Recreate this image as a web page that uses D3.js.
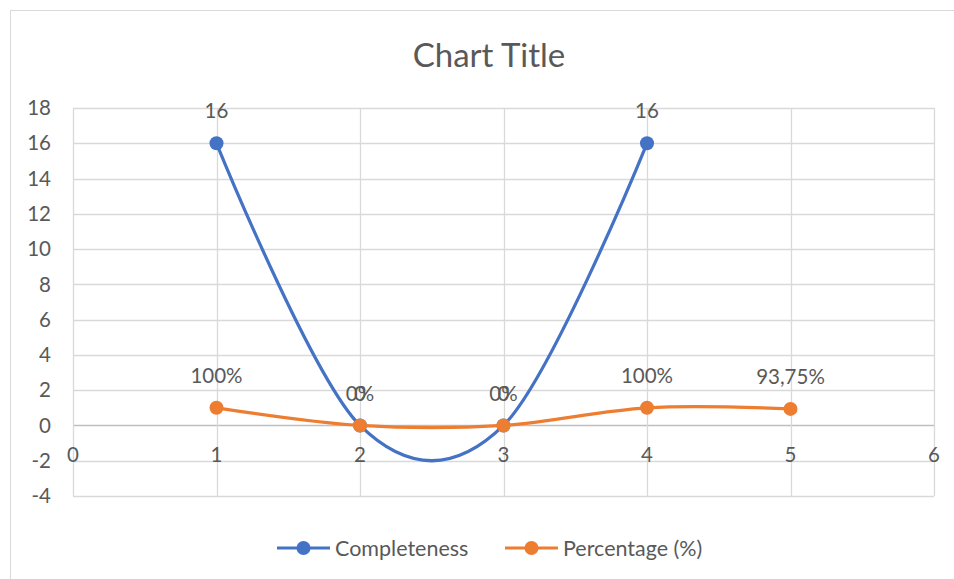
<!DOCTYPE html>
<html><head><meta charset="utf-8">
<script src="https://cdn.jsdelivr.net/npm/d3@7"></script>
<style>body{margin:0;background:#fff}svg{display:block}text{font-family:Lato,"Open Sans",sans-serif;fill:#595959}</style>
</head><body><svg id="c" width="954" height="579"></svg>
<script>
const completenessX = [1, 2, 3, 4];
const completenessY = [16, 0, 0, 16];
const completenessLabels = ["16", "0", "0", "16"];
const percentageX = [1, 2, 3, 4, 5];
const percentageY = [1, 0, 0, 1, 0.9375];
const percentageLabels = ["100%", "0%", "0%", "100%", "93,75%"];
const xTicks = [0, 1, 2, 3, 4, 5, 6];
const yTicks = [-4, -2, 0, 2, 4, 6, 8, 10, 12, 14, 16, 18];
const seriesNames = ["Completeness", "Percentage (%)"];
const colors = ["#4472C4", "#ED7D31"];

const svg = d3.select("#c");
svg.append("rect").attr("x", 10.5).attr("y", 10.5).attr("width", 960).attr("height", 600)
  .attr("fill", "#fff").attr("stroke", "#d9d9d9");

const x = d3.scaleLinear().domain([0, 6]).range([73, 934]);
const y = d3.scaleLinear().domain([-4, 18]).range([496, 108]);

svg.append("text").attr("x", 489).attr("y", 67).attr("text-anchor", "middle")
  .attr("font-size", 33).text("Chart Title");

// gridlines
const g = svg.append("g");
g.selectAll(".hg").data(yTicks).join("line")
  .attr("x1", x(0)).attr("x2", x(6)).attr("y1", d => Math.round(y(d)) + 0.5).attr("y2", d => Math.round(y(d)) + 0.5)
  .attr("stroke", d => d === 0 ? "#bfbfbf" : "#d9d9d9").attr("stroke-width", 1.3);
g.selectAll(".vg").data(xTicks).join("line")
  .attr("y1", y(18)).attr("y2", y(-4)).attr("x1", d => Math.round(x(d)) + 0.5).attr("x2", d => Math.round(x(d)) + 0.5)
  .attr("stroke", "#d9d9d9").attr("stroke-width", 1.3);

const fs = 20.5;
// y labels
svg.selectAll(".yl").data(yTicks).join("text")
  .attr("x", 51).attr("y", d => y(d)).attr("dy", "0.35em").attr("text-anchor", "end")
  .attr("font-size", fs).text(d => d);
// x labels
svg.selectAll(".xl").data(xTicks).join("text")
  .attr("x", d => x(d)).attr("y", y(0) + 29).attr("dy", "0.35em").attr("text-anchor", "middle")
  .attr("font-size", fs).text(d => d);

const line = d3.line().x(d => x(d[0])).y(d => y(d[1])).curve(d3.curveCatmullRom.alpha(0));
const series = [
  {xs: completenessX, ys: completenessY, labels: completenessLabels, color: colors[0]},
  {xs: percentageX, ys: percentageY, labels: percentageLabels, color: colors[1]}
];
series.forEach(s => {
  const pts = s.xs.map((v, i) => [v, s.ys[i]]);
  svg.append("path").attr("d", line(pts)).attr("fill", "none")
    .attr("stroke", s.color).attr("stroke-width", 3.2).attr("stroke-linecap", "round");
  svg.append("g").selectAll("circle").data(pts).join("circle")
    .attr("cx", d => x(d[0])).attr("cy", d => y(d[1])).attr("r", 7).attr("fill", s.color);
});
series.forEach(s => {
  const pts = s.xs.map((v, i) => [v, s.ys[i], s.labels[i]]);
  svg.append("g").selectAll("text").data(pts).join("text")
    .attr("x", d => x(d[0])).attr("y", d => y(d[1]) - 32).attr("dy", "0.35em")
    .attr("text-anchor", "middle").attr("font-size", fs).text(d => d[2]);
});

// legend
const leg = [{x0: 277, name: seriesNames[0], color: colors[0]}, {x0: 505, name: seriesNames[1], color: colors[1]}];
leg.forEach(l => {
  svg.append("line").attr("x1", l.x0).attr("x2", l.x0 + 53).attr("y1", 548).attr("y2", 548)
    .attr("stroke", l.color).attr("stroke-width", 3.2);
  svg.append("circle").attr("cx", l.x0 + 26.5).attr("cy", 548).attr("r", 7).attr("fill", l.color);
  svg.append("text").attr("x", l.x0 + 58).attr("y", 548).attr("dy", "0.35em").attr("font-size", 21.5).text(l.name);
});
</script></body></html>
